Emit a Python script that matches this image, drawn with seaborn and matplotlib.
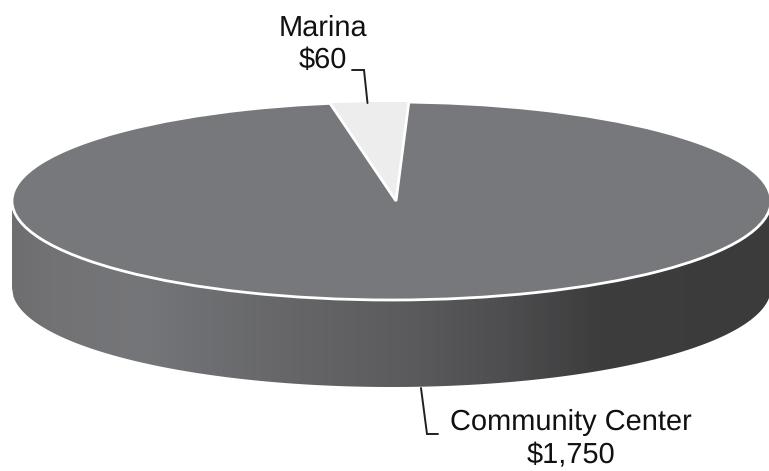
import numpy as np
import matplotlib
matplotlib.use("Agg")
import matplotlib.pyplot as plt
from matplotlib.patches import Polygon
from matplotlib.colors import LinearSegmentedColormap
import seaborn as sns

categories = ["Marina", "Community Center"]
values = [60, 1750]
value_labels = ["$60", "$1,750"]
slice_colors = ["#EDEDEE", "#77787B"]

# shading of the pie's side wall, left to right
wall_stops = [0.0, 0.05, 0.17, 0.25, 0.38, 0.51, 0.64, 0.775, 1.0]
wall_colors = ["#6E6E71", "#727275", "#757679", "#6E6F72", "#656568", "#5C5C5E", "#4F4F51", "#3D3D3E", "#3B3B3B"]

W, H = 769, 471
CX, CY, RX, RY, DEPTH = 391.5, 201, 379.5, 99, 87
APEX_SHIFT = 4.5
START_ANGLE = 100

sns.set_theme(style="white")
plt.rcParams["font.family"] = ["Liberation Sans", "DejaVu Sans"]
plt.rcParams["text.hinting"] = "none"
plt.rcParams["text.hinting_factor"] = 1

fig = plt.figure(figsize=(W / 100, H / 100), dpi=100, facecolor="white")
ax = fig.add_axes([0, 0, 1, 1])
wedges, _ = ax.pie(values, colors=slice_colors, startangle=START_ANGLE, counterclock=False,
                   radius=1, wedgeprops=dict(edgecolor="white", linewidth=2.0, zorder=3))
ax.set_aspect("auto")

# the large slice is the whole disc; the small one sits on it, its tip a little off centre
wedges[1].set_theta1(0)
wedges[1].set_theta2(360)
wedges[0].set_center((APEX_SHIFT / RX, 0))
wedges[0].set_radius(1.2)
wedges[0].set_zorder(3.5)
wedges[0].set_clip_on(True)
wedges[0].set_clip_path(wedges[1])

# side wall
d = DEPTH / RY
t = np.linspace(-1, 1, 500)
lower = -np.sqrt(1 - t ** 2)
outline = np.r_[np.c_[t, lower], np.c_[t[::-1], lower[::-1] - d]]
cmap = LinearSegmentedColormap.from_list("wall", list(zip(wall_stops, wall_colors)))
mesh = ax.imshow(np.linspace(0, 1, 512)[None, :], cmap=cmap, aspect="auto",
                 extent=(-1, 1, -1 - d, 0), zorder=1, interpolation="bilinear")
ax.set_xlim(-CX / RX, (W - CX) / RX)
ax.set_ylim((CY - H) / RY, CY / RY)
ax.axis("off")
clip = Polygon(outline, closed=True, transform=ax.transData, facecolor="none", edgecolor="none")
ax.add_patch(clip)
mesh.set_clip_path(clip)


def px(x, y):
    return (x - CX) / RX, (CY - y) / RY


def leader(points):
    xy = np.array([px(*p) for p in points])
    ax.plot(xy[:, 0], xy[:, 1], color="#231F20", lw=1.4, zorder=4, solid_joinstyle="miter")


leader([(352, 70), (364, 70), (367.5, 103)])
leader([(421, 388), (427, 434), (438, 434)])

for (x, y), s in [((323, 28), categories[0]), ((323, 60), value_labels[0]),
                  ((571, 422), categories[1]), ((571, 456), value_labels[1])]:
    ax.text(*px(x, y), s, ha="center", va="center", fontsize=20.9, color="#111111", zorder=5)

fig.savefig("out.png", dpi=100, facecolor="white")
